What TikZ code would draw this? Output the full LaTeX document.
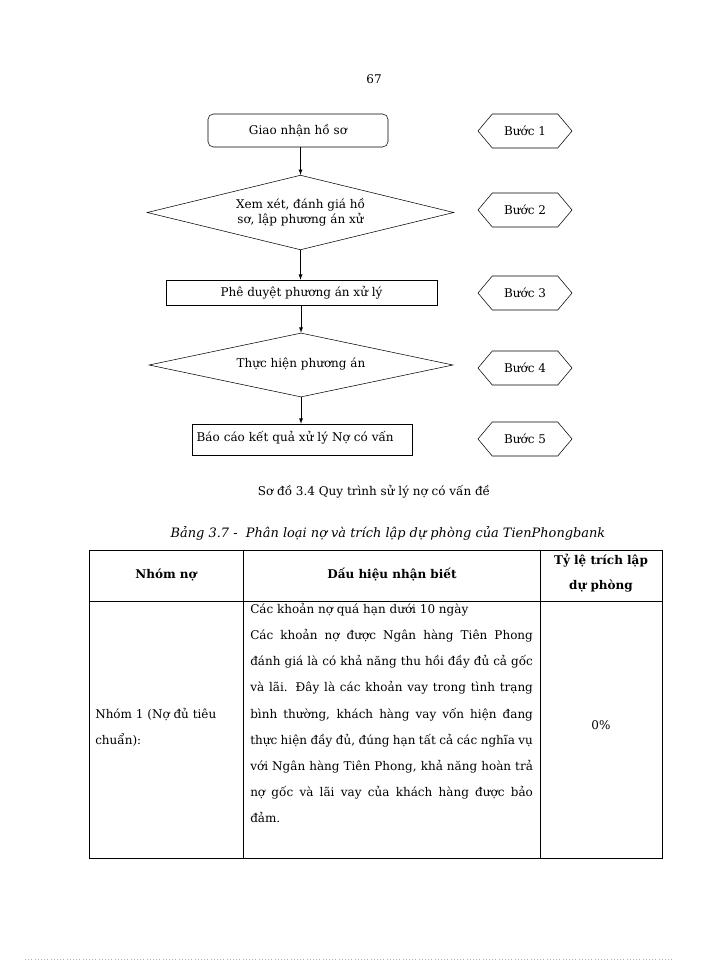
\documentclass[tikz,border=0pt]{standalone}
\usepackage{fontspec}
\setmainfont{DejaVu Serif}
\usetikzlibrary{shapes.geometric,shapes.symbols}

\tikzset{
  txt/.style={font=\fontsize{9}{11}\selectfont},
  stepbox/.style={draw, txt, rounded corners=4pt, minimum width=135pt, minimum height=24.75pt},
  taskbox/.style={draw, txt, minimum height=18.75pt},
  choice/.style={draw, txt, diamond, inner sep=0pt, align=center},
  buoc/.style={draw, txt, signal, signal to=east and west, signal pointer angle=100,
    minimum width=70.5pt, minimum height=25.5pt, inner xsep=2pt},
  flow/.style={draw, ->, >=latex},
  cell/.style={font=\fontsize{9}{19.6}\selectfont}
}

\begin{document}
\begin{tikzpicture}[x=0.75pt,y=-0.75pt]
\useasboundingbox (0,0) rectangle (700,960);

\node[txt] (page) at (374,79) {67};

\node[stepbox] (a) at (298,130.5) {Giao nhận hồ sơ};
\node[choice, shape aspect=4.1, minimum width=230pt, minimum height=56pt] (b) at (300.5,212.5) {Xem xét, đánh giá hồ\\sơ, lập phương án xử};
\node[taskbox, minimum width=203pt] (c) at (301.5,292.5) {Phê duyệt phương án xử lý};
\node[choice, shape aspect=4.75, minimum width=228pt, minimum height=48pt] (d) at (301,365) {\raisebox{3pt}{Thực hiện phương án}};
\node[taskbox, minimum width=165pt, minimum height=23.25pt, text width=158pt, align=left, text depth=5pt] (e) at (302,439.5) {Báo cáo kết quả xử lý Nợ có vấn};

\path[flow] (b.north |- a.south) -- (b.north);
\path[flow] (b.south) -- (b.south |- c.north);
\path[flow] (d.north |- c.south) -- (d.north);
\path[flow] (d.south) -- (d.south |- e.north);

\node[buoc] (s1) at (525,131) {Bước 1};
\node[buoc] (s2) at (525,210) {Bước 2};
\node[buoc] (s3) at (525,293) {Bước 3};
\node[buoc] (s4) at (525,368) {Bước 4};
\node[buoc] (s5) at (525,439) {Bước 5};

\node[txt] (cap) at (374,492) {Sơ đồ 3.4 Quy trình sử lý nợ có vấn đề};
\node[font=\fontsize{9.7}{11}\selectfont\itshape] (tcap) at (388,533) {Bảng 3.7 -\ \ Phân loại nợ và trích lập dự phòng của TienPhongbank};

% table
\draw (89,550) rectangle (662,858);
\draw (89,601) -- (662,601);
\draw (243,550) -- (243,858);
\draw (540,550) -- (540,858);

\node[txt, font=\fontsize{9}{11}\selectfont\bfseries] (h1) at (166,575) {Nhóm nợ};
\node[txt, font=\fontsize{9}{11}\selectfont\bfseries] (h2) at (392,575) {Dấu hiệu nhận biết};
\node[cell, font=\fontsize{9}{18.75}\selectfont\bfseries, align=center] (h3) at (601,573) {Tỷ lệ trích lập\\dự phòng};

\node[cell, anchor=west, align=left, inner sep=0pt] (g1) at (95,727) {Nhóm 1 (Nợ đủ tiêu\\chuẩn):};
\node[cell, anchor=north west, text width=212pt, align=justify, inner sep=0pt] (g2) at (250,603)
  {Các khoản nợ quá hạn dưới 10 ngày\par
   Các khoản nợ được Ngân hàng Tiên Phong\linebreak
   đánh giá là có khả năng thu hồi đầy đủ cả gốc\linebreak
   và lãi. Đây là các khoản vay trong tình trạng\linebreak
   bình thường, khách hàng vay vốn hiện đang\linebreak
   thực hiện đầy đủ, đúng hạn tất cả các nghĩa vụ\linebreak
   với Ngân hàng Tiên Phong, khả năng hoàn trả\linebreak
   nợ gốc và lãi vay của khách hàng được bảo\linebreak
   đảm.};
\node[txt] (g3) at (601,725) {0\%};

\draw[gray!60, dotted] (25,959) -- (672,959);
\end{tikzpicture}
\end{document}
